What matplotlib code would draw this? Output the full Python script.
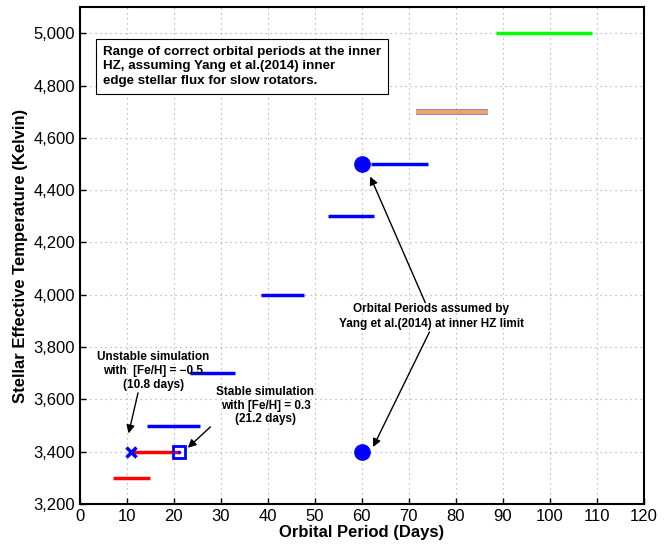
import matplotlib
matplotlib.use("Agg")
import matplotlib.pyplot as plt
from matplotlib.ticker import FuncFormatter, MultipleLocator

plt.rcParams['font.family'] = ['Liberation Sans', 'DejaVu Sans']

# Ranges of orbital periods (days) per stellar temperature (K)
temps = [3300, 3400, 3500, 3700, 4000, 4300, 4500, 4700, 5000]
p_start = [7.0, 10.8, 14.3, 23.5, 38.5, 52.8, 62.0, 71.6, 88.5]
p_end = [15.0, 21.2, 25.6, 33.0, 47.6, 62.6, 74.0, 86.8, 109.0]
colors = ['#ff0000', '#ff0000', '#0000ff', '#0000ff', '#0000ff', '#0000ff',
          '#0000ff', '#f4a460', '#00ff00']

yang_period = [60, 60]
yang_temp = [4500, 3400]
unstable = (10.8, 3400)
stable = (21.2, 3400)

fig = plt.figure(figsize=(6.7, 5.44), dpi=100)
ax = fig.add_axes([0.119, 0.0735, 0.842, 0.9135])

for t, a, b, c in zip(temps, p_start, p_end, colors):
    if t == 4700:
        ax.plot([a, b], [t, t], color='#9f7fbf', lw=4.2, solid_capstyle='butt', zorder=3)
        ax.plot([a, b], [t, t], color=c, lw=2.6, solid_capstyle='butt', zorder=4)
    else:
        ax.plot([a, b], [t, t], color=c, lw=2.5, solid_capstyle='butt', zorder=3)

ax.plot(yang_period, yang_temp, 'o', color='#0000ff', ms=11, ls='none', zorder=5)
ax.plot([unstable[0]], [unstable[1]], 'x', color='#0000ff', ms=7, mew=2.5, zorder=5)
ax.plot([stable[0]], [stable[1]], 's', mfc='none', mec='#0000ff', ms=8, mew=2, zorder=5)
ax.plot([stable[0]], [stable[1]], '.', color='#0000ff', ms=3, zorder=5)

ax.set_xlim(0, 120)
ax.set_ylim(3200, 5100)
ax.xaxis.set_major_locator(MultipleLocator(10))
ax.set_yticks([3200, 3400, 3600, 3800, 4000, 4200, 4400, 4600, 4800, 5000])
ax.yaxis.set_major_formatter(FuncFormatter(lambda v, p: f"{int(v):,}"))
ax.grid(True, ls=(0, (1, 3.5)), color='#a0a0a0', lw=0.8)
ax.tick_params(direction='in', length=4, width=1, labelsize=12, top=False, right=False)
for s in ax.spines.values():
    s.set_linewidth(1.5)

ax.set_xlabel('Orbital Period (Days)', fontsize=12, fontweight='bold', labelpad=1)
ax.set_ylabel('Stellar Effective Temperature (Kelvin)', fontsize=12, fontweight='bold', labelpad=4)

ax.text(4.9, 4952, 'Range of correct orbital periods at the inner\nHZ, assuming Yang et al.(2014) inner\nedge stellar flux for slow rotators.',
        fontsize=9.6, fontweight='bold', va='top', ha='left', linespacing=1.3,
        bbox=dict(boxstyle='square,pad=0.5', fc='white', ec='black', lw=0.8), zorder=6)

arrow = dict(arrowstyle='-|>', color='black', lw=1, mutation_scale=12, shrinkA=0, shrinkB=0)
ax.annotate('Unstable simulation\nwith  [Fe/H] = \u22120.5\n(10.8 days)', xy=(10.4, 3470), xytext=(15.6, 3708),
            ha='center', va='center', fontsize=8.5, fontweight='bold', linespacing=1.2)
ax.annotate('', xy=(10.4, 3470), xytext=(12.4, 3625), arrowprops=arrow)
ax.annotate('Stable simulation\nwith [Fe/H] = 0.3\n(21.2 days)', xy=(23.1, 3420), xytext=(39.5, 3576),
            ha='center', va='center', fontsize=8.5, fontweight='bold', linespacing=1.2)
ax.annotate('', xy=(23.0, 3415), xytext=(27.8, 3495), arrowprops=arrow)
ax.text(74.8, 3917, 'Orbital Periods assumed by\nYang et al.(2014) at inner HZ limit',
        ha='center', va='center', fontsize=8.5, fontweight='bold', linespacing=1.3)
ax.annotate('', xy=(61.8, 4452), xytext=(73.5, 3970), arrowprops=arrow)
ax.annotate('', xy=(62.4, 3418), xytext=(74.4, 3858), arrowprops=arrow)

fig.savefig('out.png', dpi=100)
